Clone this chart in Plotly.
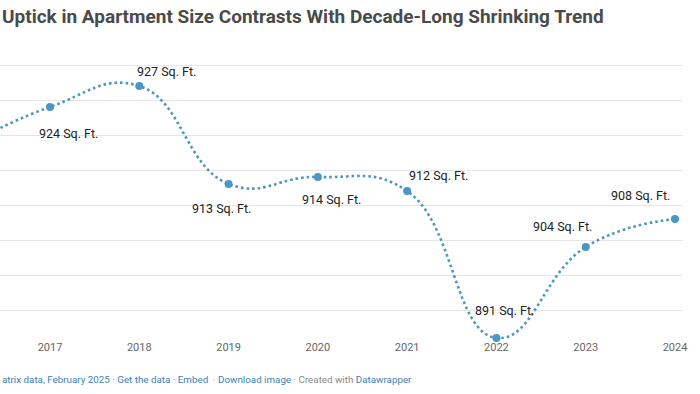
import plotly.graph_objects as go

# ---- data ----
years = [2016, 2017, 2018, 2019, 2020, 2021, 2022, 2023, 2024]
sizes = [918, 924, 927, 913, 914, 912, 891, 904, 908]
grid_values = [895, 900, 905, 910, 915, 920, 925, 930]
tick_years = [2017, 2018, 2019, 2020, 2021, 2022, 2023, 2024]
title_text = "Uptick in Apartment Size Contrasts With Decade-Long Shrinking Trend"

# ---- label placement (styling, pixel offsets from each point) ----
label_offsets = {
    2017: (18, -26), 2018: (27, 15), 2019: (-7, -24), 2020: (14, -22),
    2021: (31, 16), 2022: (8, 28), 2023: (-23, 21), 2024: (-35, 24),
}

LINE = "#4a97c4"
W, H = 700, 394
ML, MR, MT, MB = 0, 17, 60, 55
plot_h = H - MT - MB
px_per_unit = 7.0
px_per_year = 625 / 7

fig = go.Figure()
fig.add_trace(go.Scatter(
    x=years, y=sizes, mode="lines+markers",
    line=dict(color=LINE, width=2.6, dash="2.6px,3px", shape="spline", smoothing=1.3),
    marker=dict(color=LINE, size=8),
    cliponaxis=False, hoverinfo="skip", showlegend=False,
))

annotations = []
for yr, v in zip(years, sizes):
    if yr not in label_offsets:
        continue
    dx, dy = label_offsets[yr]
    annotations.append(dict(
        x=yr, y=v, xref="x", yref="y", text=f"{v} Sq. Ft.", showarrow=False,
        xanchor="center", yanchor="middle", xshift=dx, yshift=dy,
        font=dict(family="Roboto", size=12.5, color="#222222"),
    ))

annotations.append(dict(
    xref="paper", yref="paper", x=0, y=(H - MB - 16) / plot_h,
    xanchor="left", yanchor="middle", showarrow=False, text=f"<b>{title_text}</b>",
    font=dict(family="Roboto", size=19, color="#4a4a4a"),
))

blue = "#3d7fb3"
gray = "#8a8a8a"
footer = (f"<span style='color:{blue}'>atrix data, February 2025</span>"
          f"<span style='color:{gray}'> · </span><span style='color:{blue}'>Get the data</span>"
          f"<span style='color:{gray}'> · </span><span style='color:{blue}'>Embed</span>"
          f"<span style='color:{gray}'>  · </span><span style='color:{blue}'>Download image</span>"
          f"<span style='color:{gray}'> · Created with </span><span style='color:{blue}'>Datawrapper</span>")
annotations.append(dict(
    xref="paper", yref="paper", x=0, y=(H - MB - 379) / plot_h,
    xanchor="left", yanchor="middle", showarrow=False, text=footer,
    font=dict(family="Roboto", size=9.8, color=gray),
))

y_top = 930 + (65 - MT) / px_per_unit
y_bot = y_top - plot_h / px_per_unit
x_left = 2017 - (50 - ML) / px_per_year
x_right = x_left + (W - ML - MR) / px_per_year

fig.update_layout(
    width=W, height=H, margin=dict(l=ML, r=MR, t=MT, b=MB),
    paper_bgcolor="white", plot_bgcolor="white",
    annotations=annotations, hovermode=False,
    xaxis=dict(range=[x_left, x_right], tickvals=tick_years, ticktext=[str(t) for t in tick_years],
               showgrid=False, zeroline=False, showline=False, ticks="",
               tickfont=dict(family="Roboto", size=11, color="#666666")),
    yaxis=dict(range=[y_bot, y_top], tickvals=grid_values, showticklabels=False,
               showgrid=True, gridcolor="#e6e6e6", gridwidth=1, zeroline=False, showline=False),
)

fig.write_html("out.html", config={"displayModeBar": False},
               post_script="document.body.style.margin='0';document.body.style.overflow='hidden';")
